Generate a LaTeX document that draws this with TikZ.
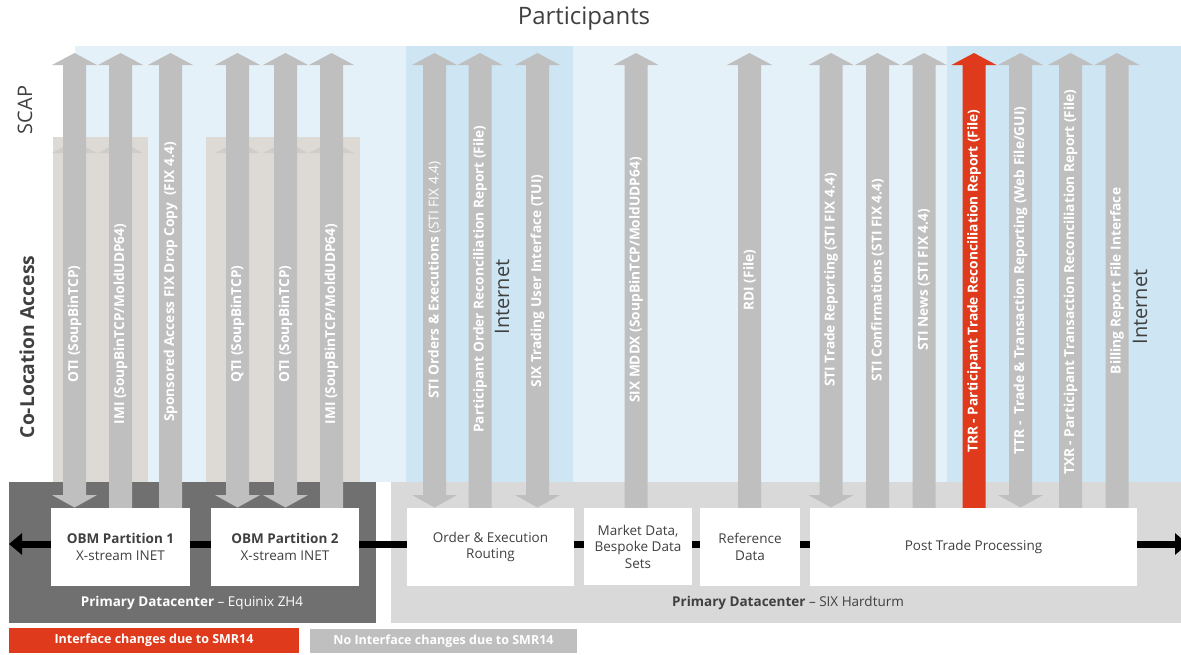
\documentclass[tikz,border=0pt]{standalone}
\usepackage{fontspec}
\setmainfont{Open Sans}
\usetikzlibrary{arrows.meta}
\definecolor{lblue}{HTML}{E5F1F9}
\definecolor{dblue}{HTML}{CEE5F3}
\definecolor{beige}{HTML}{DDDAD6}
\definecolor{agray}{HTML}{BFBFBF}
\definecolor{dkbox}{HTML}{707070}
\definecolor{ltbox}{HTML}{D9D9D9}
\definecolor{smred}{HTML}{DF3A1B}
\definecolor{txtc}{HTML}{404040}
\definecolor{fhead}{HTML}{CFCDCA}
\newcommand\arrUD[2]{\fill[#2] (#1,53) -- ++(22.5,12) -- ++(-11,0) -- ++(0,430) -- ++(11,0) -- ++(-22.5,12.5) -- ++(-22.5,-12.5) -- ++(11,0) -- ++(0,-430) -- ++(-11,0) -- cycle;}
\newcommand\arrU[2]{\fill[#2] (#1,53) -- ++(22.5,12) -- ++(-11,0) -- ++(0,443) -- ++(-23,0) -- ++(0,-443) -- ++(-11,0) -- cycle;}
\newcommand\fhd[1]{\fill[fhead] (#1,141) -- ++(22.5,12) -- ++(-45,0) -- cycle;}
\begin{document}
\begin{tikzpicture}[x=1pt,y=-1pt,
  lab/.style={text=white,font=\bfseries\fontsize{13.7}{15}\selectfont,inner sep=0pt,rotate=90},
  box/.style={fill=white,text=txtc,align=center,inner sep=0pt,font=\fontsize{13.5}{16.5}\selectfont},
  big/.style={text=txtc,font=\fontsize{20}{24}\selectfont,inner sep=0pt},
  conn/.style={line width=7pt,black},
  tip/.style={-{Triangle[length=13pt,width=21pt]}},
  dclab/.style={font=\fontsize{13.5}{16}\selectfont,inner sep=0pt},
  leg/.style={text=white,font=\bfseries\fontsize{12.5}{14}\selectfont,inner sep=0pt,anchor=center}]
\clip (0,0) rectangle (1181,654);
\useasboundingbox (0,0) rectangle (1181,654);
\fill[white] (0,0) rectangle (1181,654);
% backgrounds
\fill[lblue] (75,46) rectangle (1181,482);
\fill[dblue] (406,46) rectangle (573,482);
\fill[dblue] (947,46) rectangle (1181,482);
\fill[beige] (53,137) rectangle (148,482);
\fill[beige] (206,137) rectangle (360,482);
% datacenters
\fill[dkbox] (9,482) rectangle (376,623);
\fill[ltbox] (391,482) rectangle (1181,623);
% faint heads
\fhd{74.5}\fhd{120.5}\fhd{237.5}\fhd{285.5}\fhd{331.5}
% arrows
\arrUD{74.5}{agray}
\arrU{120.5}{agray}
\arrU{170.5}{agray}
\arrUD{237.5}{agray}
\arrUD{285.5}{agray}
\arrU{331.5}{agray}
\arrUD{434.5}{agray}
\arrU{480}{agray}
\arrUD{537.5}{agray}
\arrU{636}{agray}
\arrU{749.5}{agray}
\arrUD{831}{agray}
\arrU{877.5}{agray}
\arrU{924}{agray}
\arrU{974}{smred}
\arrUD{1020.5}{agray}
\arrU{1070.5}{agray}
\arrU{1117}{agray}
% arrow labels
\node[lab] (l1) at (74.5,324) {OTI (SoupBinTCP)};
\node[lab] (l2) at (120.5,324) {IMI (SoupBinTCP/MoldUDP64)};
\node[lab] (l3) at (170.5,282) {Sponsored Access FIX Drop Copy\ \ (FIX 4.4)};
\node[lab] (l4) at (237.5,324) {QTI (SoupBinTCP)};
\node[lab] (l5) at (285.5,324) {OTI (SoupBinTCP)};
\node[lab] (l6) at (331.5,324) {IMI (SoupBinTCP/MoldUDP64)};
\node[lab] (l7) at (434.5,280) {STI Orders \& Executions \mdseries(STI FIX 4.4)};
\node[lab] (l8) at (480,279) {Participant Order Reconciliation Report (File)};
\node[lab] (l9) at (537.5,281) {SIX Trading User Interface (TUI)};
\node[lab] (l10) at (636,280) {SIX MDDX (SoupBinTCP/MoldUDP64)};
\node[lab] (l11) at (749.5,280) {RDI (File)};
\node[lab] (l12) at (831,280) {STI Trade Reporting (STI FIX 4.4)};
\node[lab] (l13) at (877.5,280) {STI Confirmations (STI FIX 4.4)};
\node[lab] (l14) at (924,280) {STI News (STI FIX 4.4)};
\node[lab] (l15) at (974,281) {TRR - Participant Trade Reconciliation Report (File)};
\node[lab] (l16) at (1020.5,280.5) {TTR -\ \ Trade \& Transaction Reporting (Web File/GUI)};
\node[lab] (l17) at (1070.5,282) {TXR - Participant Transaction Reconciliation Report (File)};
\node[lab] (l18) at (1117,281) {Billing Report File Interface};
% big labels
\node[big,font=\fontsize{24}{28}\selectfont] (title) at (584,18.5) {Participants};
\node[big,rotate=90] (scap) at (25,110) {SCAP};
\node[big,rotate=90,font=\bfseries\fontsize{19.3}{23}\selectfont] (cola) at (27,347) {Co-Location Access};
\node[big,rotate=90] (inet1) at (502,297) {Internet};
\node[big,rotate=90] (inet2) at (1140,307) {Internet};
% boxes
\node[box,minimum width=139pt,minimum height=78pt] (obm1) at (120.5,547) {\textbf{OBM Partition 1}\\X-stream INET};
\node[box,minimum width=148pt,minimum height=78pt] (obm2) at (285,547) {\textbf{OBM Partition 2}\\X-stream INET};
\node[box,minimum width=167pt,minimum height=78pt] (oer) at (490.5,547) {Order \& Execution\\Routing};
\node[box,minimum width=108pt,minimum height=77pt] (mkt) at (638,546.5) {Market Data,\\Bespoke Data\\Sets};
\node[box,minimum width=100pt,minimum height=78pt] (ref) at (750,547) {Reference\\Data};
\node[box,minimum width=327pt,minimum height=78pt] (ptp) at (973.5,547) {Post Trade Processing};
% connectors
\coordinate (ly) at (0,544);
\coordinate (lend) at (9,544);
\coordinate (rend) at (1188,544);
\draw[conn,tip] (obm1.west |- ly) -- (lend);
\draw[conn] (obm1.east |- ly) -- (obm2.west |- ly);
\draw[conn] (obm2.east |- ly) -- (oer.west |- ly);
\draw[conn] (oer.east |- ly) -- (mkt.west |- ly);
\draw[conn] (mkt.east |- ly) -- (ref.west |- ly);
\draw[conn] (ref.east |- ly) -- (ptp.west |- ly);
\draw[conn,tip] (ptp.east |- ly) -- (rend);
% datacenter labels
\node[dclab,text=white] (dc1) at (192,603) {\textbf{Primary Datacenter} – Equinix ZH4};
\node[dclab,text=txtc] (dc2) at (788,603) {\textbf{Primary Datacenter} – SIX Hardturm};
% legend
\node[leg,fill=smred,minimum width=290pt,minimum height=25pt] (leg1) at (154,640.5) {Interface changes due to SMR14};
\node[leg,fill=agray,minimum width=267pt,minimum height=24pt] (leg2) at (443.5,641) {No Interface changes due to SMR14};
\end{tikzpicture}
\end{document}
